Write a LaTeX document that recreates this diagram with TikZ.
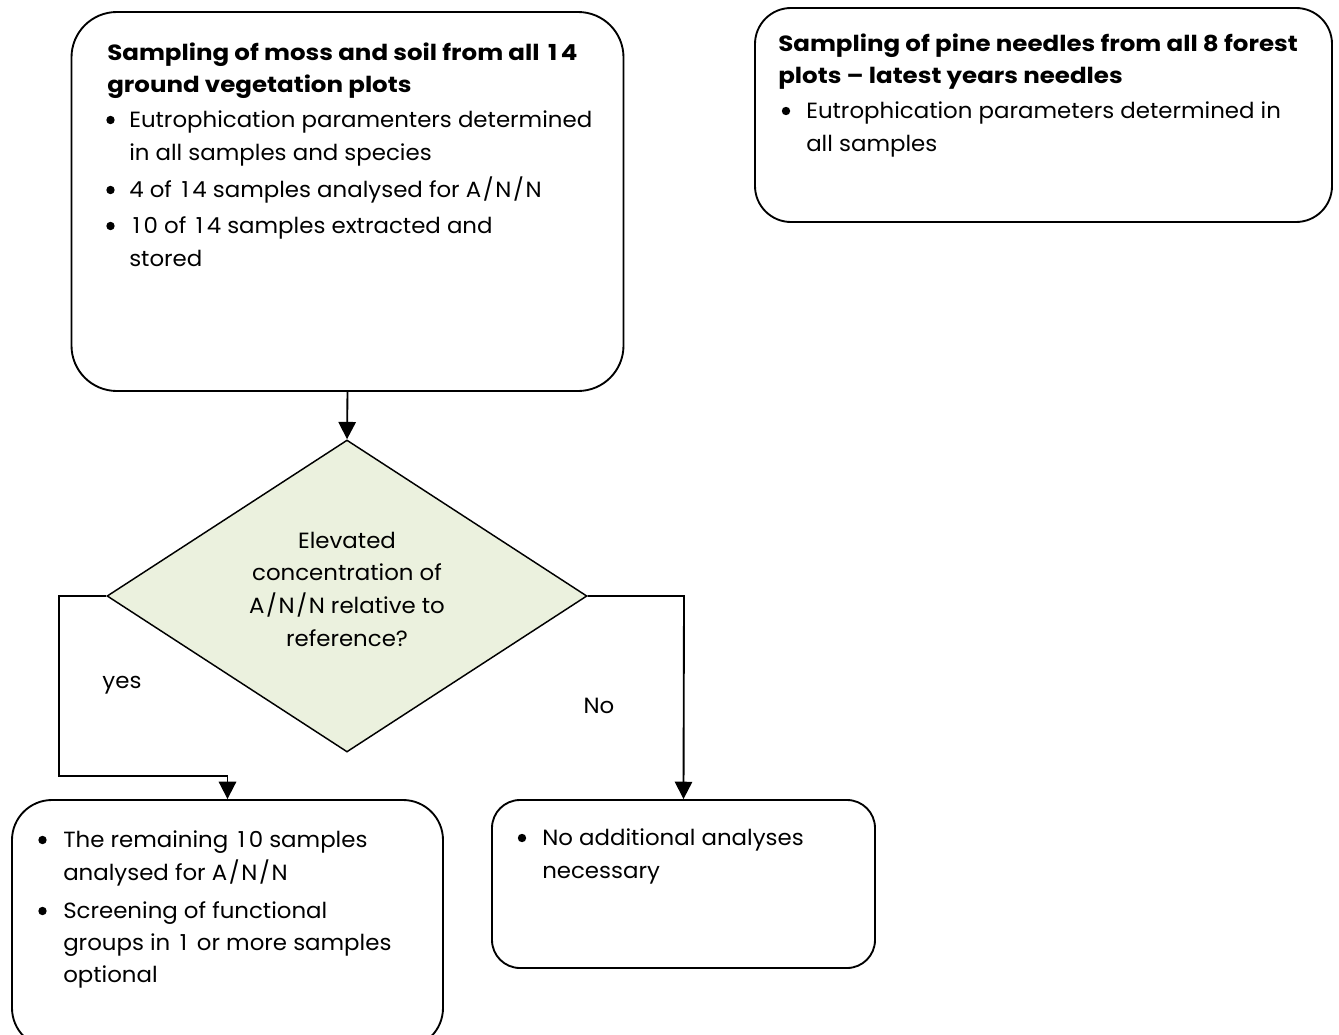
\documentclass[tikz,border=0pt]{standalone}
\usepackage{fontspec}
\setmainfont{Poppins}[FakeStretch=1.04,BoldFeatures={FakeStretch=1.115}]
\usetikzlibrary{shapes.geometric,arrows.meta}
\definecolor{diafill}{HTML}{EBF1DE}
\newcommand\dOne{\hbox to \fontcharwd\font`0{\hss 1\hss}}
\newcommand\ANNtxt{A\kern1.2pt/\kern1.2pt N\kern1.2pt/\kern1.2pt N}
\begin{document}
\begin{tikzpicture}[x=0.75pt,y=-0.75pt,
  box/.style={draw,line width=1.4pt,inner sep=0pt},
  ln/.style={anchor=base west,inner sep=0pt,font=\fontsize{16.5}{24}\selectfont},
  bln/.style={ln,font=\fontsize{16.5}{24}\selectfont\bfseries},
  cln/.style={anchor=base,inner sep=0pt,font=\fontsize{16.5}{24}\selectfont},
  bul/.style={circle,fill,inner sep=0pt,minimum size=6.3pt},
  conn/.style={line width=1.4pt,-{Triangle[width=13pt,length=13pt]}}]
\useasboundingbox (0,0) rectangle (1339,1035);
\fill[white] (0,0) rectangle (1339,1035);
\clip (0,0) rectangle (1339,1035);

% boxes
\node[box,rounded corners=34pt,minimum width=414pt,minimum height=284.25pt] (b1) at (347.5,201.5) {};
\node[box,rounded corners=27pt,minimum width=432.75pt,minimum height=160.5pt] (b2) at (1043.5,115) {};
\node[box,rounded corners=30pt,minimum width=323.25pt,minimum height=186pt] (b3) at (227.5,924) {};
\node[box,rounded corners=21pt,minimum width=287.25pt,minimum height=126pt] (b4) at (683.5,884) {};
\node[diamond,draw,line width=1.1pt,fill=diafill,inner sep=0pt,minimum width=360pt,minimum height=234pt] (dia) at (347,596) {};

% box 1 text
\node[bln] (t1a) at (107,60) {Sampling of moss and soil from all \dOne4};
\node[bln] (t1b) at (107,92) {ground vegetation plots};
\node[bul] (u1a) at (110.5,120) {};
\node[ln] (t1c) at (129,127) {Eutrophication paramenters determined};
\node[ln] (t1d) at (129,160) {in all samples and species};
\node[bul] (u1b) at (110.5,190) {};
\node[ln] (t1e) at (129,197) {4 of \dOne4 samples analysed for \ANNtxt};
\node[bul] (u1c) at (110.5,226) {};
\node[ln] (t1f) at (129,233) {\dOne0 of \dOne4 samples extracted and};
\node[ln] (t1g) at (129,266) {stored};

% box 2 text
\node[bln] (t2a) at (778,51) {Sampling of pine needles from all 8 forest};
\node[bln] (t2b) at (778,83) {plots -- latest years needles};
\node[bul] (u2a) at (786,111) {};
\node[ln] (t2c) at (806,118) {Eutrophication parameters determined in};
\node[ln] (t2d) at (806,151) {all samples};

% diamond text
\node[cln] (d1) at (347,548) {Elevated};
\node[cln] (d2) at (347,580) {concentration of};
\node[cln] (d3) at (347,613) {\ANNtxt{} relative to};
\node[cln] (d4) at (347,646) {reference?};

% box 3 text
\node[bul] (u3a) at (42.5,840) {};
\node[ln] (t3a) at (63,847) {The remaining \dOne0 samples};
\node[ln] (t3b) at (63,880) {analysed for \ANNtxt};
\node[bul] (u3b) at (42.5,911) {};
\node[ln] (t3c) at (63,918) {Screening of functional};
\node[ln] (t3d) at (63,950) {groups in \dOne{} or more samples};
\node[ln] (t3e) at (63,982) {optional};

% box 4 text
\node[bul] (u4a) at (522,838) {};
\node[ln] (t4a) at (542,845) {No additional analyses};
\node[ln] (t4b) at (542,878) {necessary};

% labels
\node[cln] (yes) at (122,688) {yes};
\node[cln] (no) at (599,713) {No};

% connectors
\coordinate (l1) at (59,596);
\coordinate (l2) at (59,776);
\coordinate (r1) at (684,596);
\draw[conn] (b1.south) -- (dia.north);
\draw[conn] (dia.west) -- (l1) -- (l2) -| (b3.north);
\draw[conn] (dia.east) -- (r1) -- (b4.north);
\end{tikzpicture}
\end{document}
